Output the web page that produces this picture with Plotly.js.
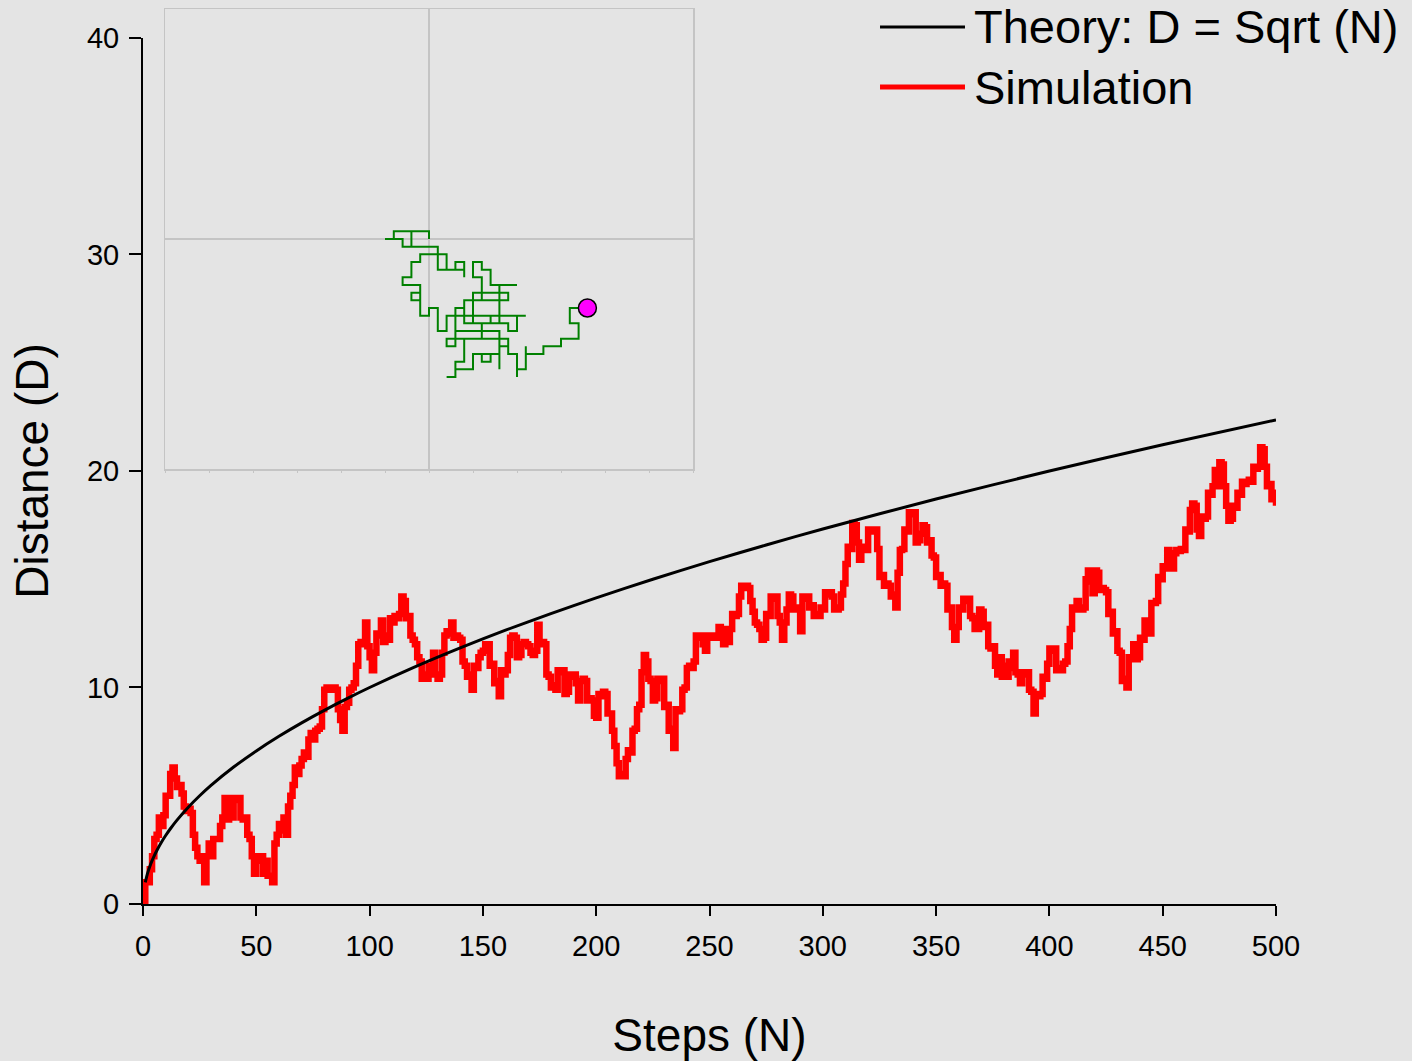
<!DOCTYPE html>
<html>
<head>
<meta charset="utf-8">
<script src="https://cdn.plot.ly/plotly-3.0.1.min.js"></script>
<style>
  html, body { margin: 0; padding: 0; background: #e4e4e4; }
  #chart { width: 1412px; height: 1061px; }
</style>
</head>
<body>
<div id="chart"></div>
<script>
// Distance from the origin after each step of the simulated 2-D random walk (steps 0..500)
const simDistance = [
  0, 1.0, 1.0, 1.6, 2.2, 3.0, 3.2, 4.0, 3.6, 4.1,
  5.0, 5.0, 6.0, 6.3, 5.8, 5.4, 5.5, 5.1, 4.5, 4.3,
  4.4, 4.2, 3.2, 2.6, 2.2, 2.0, 2.2, 1.0, 2.2, 2.8,
  2.2, 3.0, 3.0, 3.0, 3.6, 4.0, 4.9, 3.9, 4.9, 4.0,
  4.9, 4.8, 4.9, 4.0, 3.9, 4.0, 3.2, 3.0, 2.2, 1.4,
  2.2, 2.0, 2.2, 1.4, 2.0, 1.3, 1.3, 1.0, 2.8, 3.2,
  3.7, 3.4, 4.0, 3.2, 4.5, 5.0, 5.5, 6.3, 6.0, 6.4,
  6.7, 7.0, 6.8, 7.6, 7.9, 7.6, 8.0, 8.1, 8.2, 9.0,
  9.9, 10.0, 9.9, 9.9, 10.0, 9.9, 9.0, 8.5, 8.0, 9.1,
  9.3, 9.9, 10.0, 10.2, 11.0, 12.0, 12.1, 12.0, 13.0, 11.9,
  11.4, 10.8, 11.6, 12.5, 12.4, 13.1, 12.1, 12.4, 12.2, 13.2,
  13.0, 13.3, 13.2, 13.4, 14.2, 14.0, 13.2, 13.3, 12.4, 12.2,
  12.0, 11.4, 11.2, 10.4, 10.6, 10.4, 11.0, 10.6, 11.6, 10.6,
  10.4, 10.6, 11.6, 12.4, 12.6, 12.5, 13.0, 12.3, 12.4, 12.3,
  12.2, 11.2, 11.0, 10.5, 10.6, 9.9, 11.0, 10.9, 11.4, 11.6,
  11.7, 12.0, 12.0, 11.0, 11.1, 10.2, 10.3, 9.6, 10.8, 10.6,
  10.8, 11.5, 12.3, 12.4, 12.3, 11.4, 11.5, 12.0, 12.1, 12.0,
  11.9, 11.6, 11.5, 11.7, 12.9, 12.0, 12.1, 12.0, 10.6, 10.5,
  10.0, 10.1, 9.9, 10.8, 10.7, 10.8, 9.7, 9.8, 10.6, 10.5,
  10.6, 10.2, 9.4, 10.3, 10.4, 10.3, 9.4, 9.5, 9.4, 8.7,
  8.6, 9.7, 9.6, 9.8, 9.7, 8.8, 8.8, 8.0, 7.3, 6.5,
  5.9, 6.0, 5.9, 6.7, 7.1, 7.0, 8.0, 8.1, 9.0, 9.2,
  10.7, 11.5, 11.2, 10.4, 10.3, 9.4, 9.5, 10.4, 10.3, 10.4,
  9.1, 9.2, 8.0, 8.1, 7.2, 9.0, 8.9, 9.0, 9.9, 10.0,
  10.9, 11.0, 10.9, 11.2, 12.4, 12.3, 12.4, 12.0, 11.7, 12.4,
  12.3, 12.4, 12.4, 12.3, 12.8, 12.7, 12.0, 12.7, 12.1, 12.7,
  13.4, 13.3, 13.4, 14.2, 14.7, 14.6, 14.7, 14.6, 14.0, 13.5,
  13.0, 12.9, 12.7, 12.2, 12.3, 13.4, 13.3, 14.2, 14.1, 14.2,
  13.3, 13.0, 12.2, 13.0, 13.6, 14.3, 14.2, 13.6, 13.7, 13.6,
  12.6, 14.2, 14.1, 14.2, 13.7, 13.8, 13.3, 13.4, 13.3, 13.7,
  13.6, 14.4, 14.3, 14.4, 14.2, 13.6, 13.6, 13.7, 14.3, 14.8,
  15.7, 16.5, 16.4, 17.6, 17.5, 16.7, 15.9, 16.4, 16.5, 16.35,
  17.3, 17.2, 17.3, 17.3, 16.4, 15.1, 15.2, 14.7, 14.8, 14.7,
  14.2, 14.3, 13.7, 15.3, 16.35, 16.4, 17.3, 17.2, 18.1, 18.0,
  18.1, 16.7, 16.8, 17.1, 17.5, 17.4, 16.7, 16.8, 16.1, 16.0,
  15.1, 15.2, 14.7, 14.8, 14.7, 13.6, 13.7, 12.8, 12.2, 12.8,
  13.7, 13.6, 14.1, 14.0, 14.1, 13.3, 13.2, 12.7, 12.7, 13.6,
  13.5, 12.8, 12.9, 11.9, 11.8, 11.9, 11.0, 10.6, 11.4, 10.5,
  11.0, 10.5, 11.2, 10.9, 11.6, 10.7, 10.6, 10.2, 10.7, 10.6,
  10.7, 9.9, 9.8, 8.8, 9.7, 9.6, 9.7, 10.5, 10.4, 11.1,
  11.8, 11.7, 11.8, 10.8, 10.9, 10.8, 11.1, 11.2, 11.9, 12.7,
  13.7, 13.6, 14.0, 13.7, 13.6, 13.7, 15.0, 15.4, 14.9, 14.35,
  15.4, 15.3, 14.5, 14.6, 14.5, 14.4, 13.4, 13.5, 12.5, 12.6,
  11.7, 11.6, 10.3, 10.4, 10.0, 11.4, 11.3, 12.0, 11.3, 11.4,
  12.3, 12.2, 13.1, 12.9, 12.5, 13.9, 13.9, 14.0, 15.1, 15.0,
  15.6, 15.5, 16.35, 15.6, 15.5, 16.2, 16.35, 16.3, 16.4, 16.35,
  17.3, 17.2, 18.2, 18.5, 18.4, 17.3, 17.0, 17.9, 17.8, 17.9,
  19.0, 18.9, 19.3, 20.05, 19.3, 20.4, 20.3, 19.3, 18.4, 17.7,
  17.8, 18.4, 18.3, 19.0, 18.9, 19.5, 19.4, 19.5, 19.6, 19.5,
  20.2, 20.1, 20.2, 21.1, 21.0, 20.2, 19.3, 19.4, 18.7, 19.0,
  18.4
];
const simSteps = simDistance.map((_, i) => i);

// Expected distance D = Sqrt(N), tabulated at selected step counts
const theorySteps = [1, 2, 3, 4, 5, 6, 8, 10, 12, 15, 20, 25, 30, 40, 50, 60, 70, 80, 90, 100,
  120, 140, 160, 180, 200, 225, 250, 275, 300, 350, 400, 450, 500];
const theoryDistance = [1, 1.414, 1.732, 2, 2.236, 2.449, 2.828, 3.162, 3.464, 3.873, 4.472, 5,
  5.477, 6.325, 7.071, 7.746, 8.367, 8.944, 9.487, 10, 10.954, 11.832, 12.649, 13.416, 14.142,
  15, 15.811, 16.583, 17.321, 18.708, 20, 21.213, 22.361];

// Turning points of the walk on the lattice (inset), starting at the origin
const walkX = [0, 0, -4, -4, -5, -3, -3, -2, -2, -2, 1, 1, 4, 4, 4, 3, 3, 2, 2, -1, -1, -2, -2, -3, -3,
  -1, -1, -2, -2, -1, -1, 0, 0, 1, 1, 2, 2, 4, 4, 3, 3, 2, 2, 6, 6, 5, 5, 9, 9, 6, 6, 5, 5, 6, 6,
  7, 7, 10, 8, 8, 7, 7, 11, 10, 10, 9, 9, 4, 4, 8, 8, 3, 3, 8, 8, 9, 9, 4, 4, 3, 3, 2, 3, 3, 5, 5,
  7, 7, 6, 6, 8, 8, 8, 9, 9, 10, 10, 10, 11, 11, 11, 13, 13, 15, 15, 17, 17, 16, 16, 18];
const walkY = [0, 1, 1, 0, 0, 0, -1, -1, 1, -1, -1, -4, -4, -5, -3, -3, -4, -4, -2, -2, -3, -3, -5, -5, -6,
  -6, -8, -8, -7, -7, -10, -10, -9, -9, -12, -12, -10, -10, -9, -9, -14, -14, -13, -13, -11, -11, -7, -7, -8, -8, -5, -5, -3, -3, -4,
  -4, -6, -6, -6, -11, -11, -10, -10, -10, -12, -12, -11, -11, -8, -8, -10, -10, -12, -12, -14, -14, -13, -13, -16, -16, -18, -18, -18, -17, -17, -15,
  -15, -16, -16, -15, -15, -17, -13, -13, -15, -15, -18, -17, -17, -14, -15, -15, -14, -14, -13, -13, -11, -11, -9, -9];

const bg = '#e4e4e4';
const fontFamily = '"Liberation Sans", Arial, sans-serif';

const traces = [
  {
    x: simSteps, y: simDistance, type: 'scatter', mode: 'lines',
    line: { color: '#ff0000', width: 6.5, shape: 'hv' }, xaxis: 'x', yaxis: 'y', showlegend: false
  },
  {
    x: theorySteps, y: theoryDistance, type: 'scatter', mode: 'lines',
    line: { color: '#000000', width: 3, shape: 'spline', smoothing: 0.6 },
    xaxis: 'x', yaxis: 'y', showlegend: false
  },
  {
    x: walkX, y: walkY, type: 'scatter', mode: 'lines',
    line: { color: '#008000', width: 2 }, xaxis: 'x2', yaxis: 'y2', showlegend: false
  },
  {
    x: [walkX[walkX.length - 1]], y: [walkY[walkY.length - 1]], type: 'scatter', mode: 'markers',
    marker: { color: '#ff00ff', size: 18, line: { color: '#000000', width: 1.5 } },
    xaxis: 'x2', yaxis: 'y2', showlegend: false
  }
];

// paper y spans the plot area from 9px to 904px; the main axes occupy its lower part
const legendRows = [
  { label: 'Theory: D = Sqrt (N)', color: '#000000', width: 3, y: 0.9799 },
  { label: 'Simulation', color: '#ff0000', width: 5, y: 0.9128 }
];

const layout = {
  width: 1412, height: 1061,
  margin: { l: 143, r: 136, t: 9, b: 157 },
  paper_bgcolor: bg, plot_bgcolor: bg,
  font: { family: fontFamily, color: '#000000' },
  showlegend: false,
  xaxis: {
    domain: [0, 1], range: [0, 500], anchor: 'y',
    tickvals: [0, 50, 100, 150, 200, 250, 300, 350, 400, 450, 500],
    ticks: 'outside', ticklen: 10, tickwidth: 2, tickcolor: '#000000',
    ticklabelstandoff: 5,
    showline: true, linecolor: '#000000', linewidth: 2,
    showgrid: false, zeroline: false,
    tickfont: { size: 29, family: fontFamily },
    title: { text: 'Steps (N)', font: { size: 46, family: fontFamily }, standoff: 60 }
  },
  yaxis: {
    domain: [0, 0.9676], range: [0, 40], anchor: 'x',
    tickvals: [0, 10, 20, 30, 40],
    ticks: 'outside', ticklen: 12, tickwidth: 2, tickcolor: '#000000',
    ticklabelstandoff: 4,
    showline: true, linecolor: '#000000', linewidth: 2,
    showgrid: false, zeroline: false,
    tickfont: { size: 29, family: fontFamily },
    title: { text: 'Distance (D)', font: { size: 46, family: fontFamily }, standoff: 24 }
  },
  xaxis2: {
    domain: [0.01942, 0.48544], range: [-30, 30], anchor: 'y2',
    showgrid: false, zeroline: true, zerolinecolor: '#c4c4c4', zerolinewidth: 1.5,
    showline: true, mirror: true, linecolor: '#c4c4c4', linewidth: 1.5,
    ticks: 'outside', ticklen: 2, tickcolor: '#c4c4c4', dtick: 5, showticklabels: false
  },
  yaxis2: {
    domain: [0.48603, 1], range: [-30, 30], anchor: 'x2',
    showgrid: false, zeroline: true, zerolinecolor: '#c4c4c4', zerolinewidth: 1.5,
    showline: true, mirror: true, linecolor: '#c4c4c4', linewidth: 1.5,
    ticks: '', showticklabels: false
  },
  shapes: legendRows.map(r => ({
    type: 'line', xref: 'paper', yref: 'paper',
    x0: 0.6505, x1: 0.7255, y0: r.y, y1: r.y,
    line: { color: r.color, width: r.width }
  })),
  annotations: legendRows.map(r => ({
    text: r.label, xref: 'paper', yref: 'paper', x: 0.7316, y: r.y,
    xanchor: 'left', yanchor: 'middle', showarrow: false,
    font: { size: 47, family: fontFamily, color: '#000000' }
  }))
};

Plotly.newPlot('chart', traces, layout, { displayModeBar: false, staticPlot: true });
</script>
</body>
</html>
